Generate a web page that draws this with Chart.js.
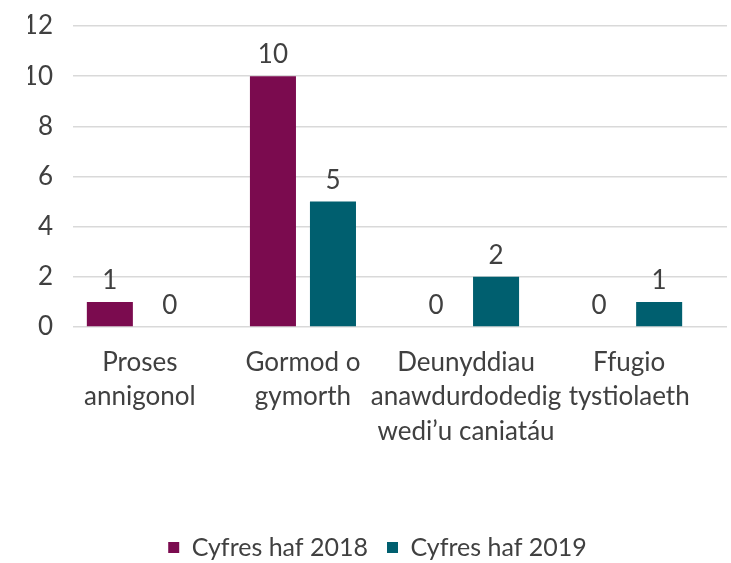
<!DOCTYPE html>
<html>
<head>
<meta charset="utf-8">
<script src="https://cdn.jsdelivr.net/npm/chart.js@4"></script>
<style>
  html, body { margin: 0; padding: 0; background: #fff; }
  #wrap { width: 731px; height: 563px; }
</style>
</head>
<body>
<div id="wrap"><canvas id="chart"></canvas></div>
<script>
const categories = [
  ['Proses', 'annigonol'],
  ['Gormod o', 'gymorth'],
  ['Deunyddiau', 'anawdurdodedig', 'wedi’u caniatáu'],
  ['Ffugio', 'tystiolaeth']
];
const values2018 = [1, 10, 0, 0];
const values2019 = [0, 5, 2, 1];
const seriesNames = ['Cyfres haf 2018', 'Cyfres haf 2019'];
const yTicks = [0, 2, 4, 6, 8, 10, 12];

const textColor = '#404040';
const fontFamily = 'Lato, "Noto Sans", sans-serif';

// bars are placed on a linear x axis so the groups sit where the original has them
const toPoints = vals => vals.map((v, i) => ({ x: i, y: v }));

const valueLabels = {
  id: 'valueLabels',
  afterDatasetsDraw(chart) {
    const ctx = chart.ctx;
    ctx.save();
    ctx.font = '26px ' + fontFamily;
    ctx.fillStyle = textColor;
    ctx.textAlign = 'center';
    ctx.textBaseline = 'alphabetic';
    chart.data.datasets.forEach((ds, i) => {
      chart.getDatasetMeta(i).data.forEach((bar, j) => {
        ctx.fillText(String(ds.data[j].y), bar.x, bar.y - 13);
      });
    });
    ctx.restore();
  }
};

new Chart(document.getElementById('chart'), {
  type: 'bar',
  data: {
    datasets: [
      { label: seriesNames[0], data: toPoints(values2018), backgroundColor: '#7b0b4f' },
      { label: seriesNames[1], data: toPoints(values2019), backgroundColor: '#005f6f' }
    ]
  },
  plugins: [valueLabels],
  options: {
    responsive: true,
    maintainAspectRatio: false,
    animation: false,
    layout: { padding: { top: 26, right: 4, left: 28, bottom: -7 } },
    datasets: { bar: { categoryPercentage: 0.736, barPercentage: 0.767 } },
    scales: {
      x: {
        type: 'linear',
        offset: false,
        min: -0.41,
        max: 3.6,
        afterFit: s => { s.height = 189; },
        grid: { display: false, drawTicks: false },
        border: { display: false },
        afterBuildTicks: s => { s.ticks = categories.map((c, i) => ({ value: i })); },
        ticks: {
          callback: v => categories[v],
          color: textColor,
          font: { family: fontFamily, size: 26, lineHeight: 1.33 },
          padding: 18,
          maxRotation: 0,
          autoSkip: false
        }
      },
      y: {
        min: 0,
        max: 12,
        afterFit: s => { s.width = 45; s.paddingTop = 0; s.paddingBottom = 0; },
        afterBuildTicks: s => { s.ticks = yTicks.map(v => ({ value: v })); },
        grid: { color: '#d9d9d9', lineWidth: 1.5, drawTicks: false },
        border: { display: false },
        ticks: {
          color: textColor,
          font: { family: fontFamily, size: 26 },
          padding: 20
        }
      }
    },
    plugins: {
      tooltip: { enabled: false },
      legend: {
        position: 'bottom',
        labels: {
          boxWidth: 11,
          boxHeight: 11,
          padding: 19,
          color: textColor,
          font: { family: fontFamily, size: 25 }
        }
      }
    }
  }
});
</script>
</body>
</html>
